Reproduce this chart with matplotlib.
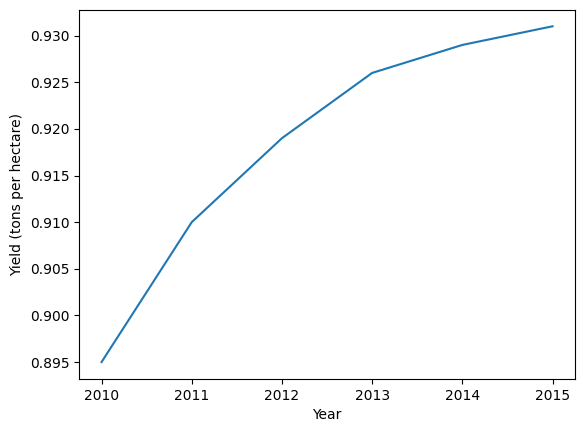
import matplotlib
matplotlib.use('Agg')
import matplotlib.pyplot as plt

# data
years = [2010, 2011, 2012, 2013, 2014, 2015]
yields = [0.895, 0.910, 0.919, 0.926, 0.929, 0.931]

fig = plt.figure(figsize=(5.85, 4.32), dpi=100)
ax = fig.add_axes([0.135, 0.123, 0.848, 0.855])

ax.plot(years, yields, color='#1f77b4')
ax.set_xlabel('Year')
ax.set_ylabel('Yield (tons per hectare)')

fig.savefig('out.png', dpi=100)
